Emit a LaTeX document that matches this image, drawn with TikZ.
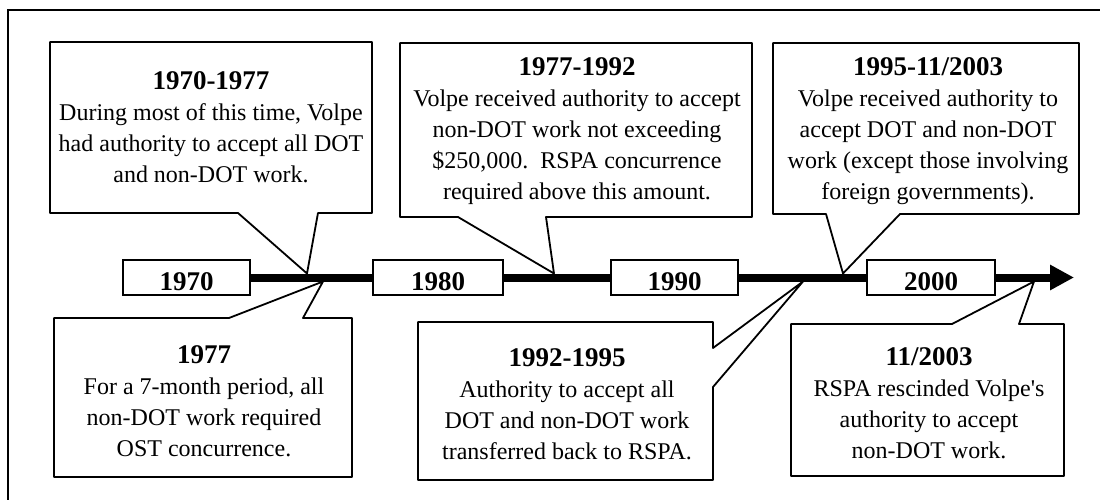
\documentclass[tikz,border=0pt]{standalone}
\usepackage{fontspec}
\setmainfont{Liberation Serif}
\usetikzlibrary{arrows.meta}
\newcommand\cotitle[1]{{\fontsize{27}{31}\selectfont\bfseries #1}}
\begin{document}
\begin{tikzpicture}[x=1pt,y=-1pt,
  callout/.style={draw=black, line width=1.8pt, fill=white, line join=round},
  txt/.style={align=center, font=\fontsize{24}{31}\selectfont, inner sep=0pt},
  yearbox/.style={draw=black, line width=1.8pt, fill=white, minimum height=35pt, inner sep=0pt,
    font=\fontsize{27}{31}\selectfont\bfseries, text height=26pt, text depth=0pt},
  bar/.style={line width=8pt},
  frame/.style={draw=black, line width=1.8pt},
]
\useasboundingbox (0,0) rectangle (1100,500);
\clip (0,0) rectangle (1100,500);
\fill[white] (0,0) rectangle (1100,500);
% outer frame (cropped)
\coordinate (fbl) at (8,520);
\coordinate (ftl) at (8,10);
\coordinate (ftr) at (1120,10);
\draw[frame] (fbl) -- (ftl) -- (ftr);

% pointer tips on the timeline
\coordinate (p1) at (307,273.5);
\coordinate (p2) at (554,273.5);
\coordinate (p3) at (843,273.5);
\coordinate (p4) at (323,281.5);
\coordinate (p5) at (803,281.5);
\coordinate (p6) at (1034,281.5);

% callout outlines
\draw[callout] (50,42) -- (372,42) -- (372,213) -- (318,213) -- (p1) -- (238,213) -- (50,213) -- cycle;
\draw[callout] (400,43) -- (752,43) -- (752,217) -- (546,217) -- (p2) -- (458,217) -- (400,217) -- cycle;
\draw[callout] (773,43) -- (1079,43) -- (1079,214) -- (900,214) -- (p3) -- (826,214) -- (773,214) -- cycle;
\draw[callout] (54,318) -- (229,318) -- (p4) -- (303,318) -- (352,318) -- (352,477) -- (54,477) -- cycle;
\draw[callout] (418,322) -- (713,322) -- (713,348) -- (p5) -- (713,387) -- (713,480) -- (418,480) -- cycle;
\draw[callout] (791,324) -- (952,324) -- (p6) -- (1019,324) -- (1064,324) -- (1064,476) -- (791,476) -- cycle;

% callout texts
\node[txt] (t1) at (211,127) {\cotitle{1970-1977}\\During most of this time, Volpe\\had authority to accept all DOT\\and non-DOT work.};
\node[txt] (t2) at (577,131) {\cotitle{1977-1992}\\Volpe received authority to accept\\non-DOT work not exceeding\\\$250,000.\ \ RSPA concurrence\\required above this amount.};
\node[txt] (t3) at (928,131) {\cotitle{1995-11/2003}\\Volpe received authority to\\accept DOT and non-DOT\\work (except those involving\\foreign governments).};
\node[txt] (t4) at (204,401) {\cotitle{1977}\\For a 7-month period, all\\non-DOT work required\\OST concurrence.};
\node[txt] (t5) at (567,404) {\cotitle{1992-1995}\\Authority to accept all\\DOT and non-DOT work\\transferred back to RSPA.};
\node[txt] (t6) at (929,403) {\cotitle{11/2003}\\RSPA rescinded Volpe\textquotesingle s\\authority to accept\\non-DOT work.};

% year boxes
\node[yearbox, minimum width=127pt] (y1970) at (186.5,277.5) {1970};
\node[yearbox, minimum width=130pt] (y1980) at (438,277.5) {1980};
\node[yearbox, minimum width=127pt] (y1990) at (674.5,277.5) {1990};
\node[yearbox, minimum width=128pt] (y2000) at (931,277.5) {2000};
\coordinate (tip) at (1074,277.5);

% timeline bar
\draw[bar] (y1970.east) -- (y1980.west);
\draw[bar] (y1980.east) -- (y1990.west);
\draw[bar] (y1990.east) -- (y2000.west);
\draw[bar, -{Triangle[length=24pt,width=24pt]}] (y2000.east) -- (tip);
\end{tikzpicture}
\end{document}
